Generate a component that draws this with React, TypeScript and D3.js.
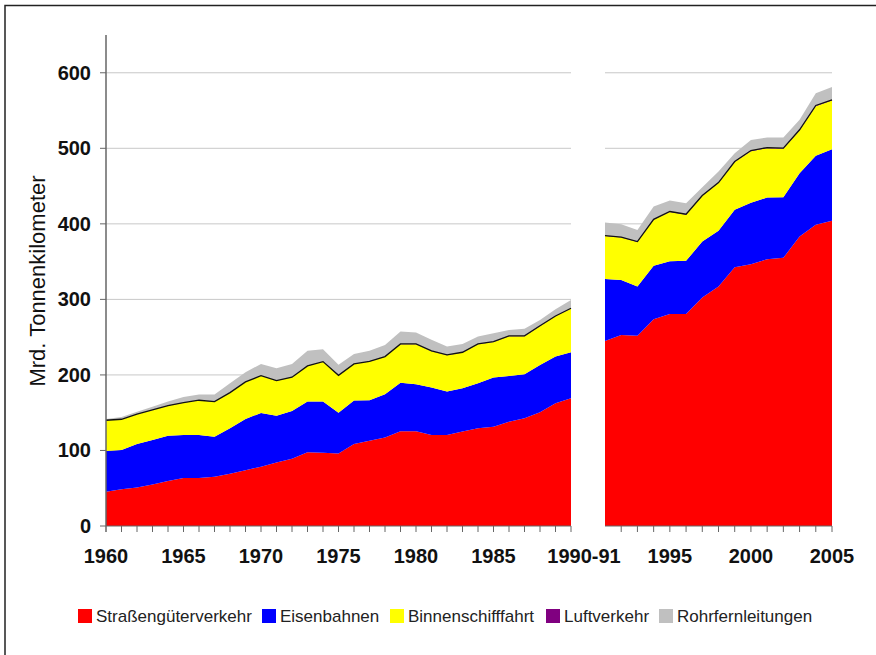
import { useMemo } from "react";
import * as d3 from "d3";

const WIDTH = 876;
const HEIGHT = 655;
const FONT = "'Liberation Sans', Arial, Helvetica, sans-serif";

// west german series 1960-1990, Mrd. tkm
const yearsA = d3.range(1960, 1991);
const roadA = [45.5, 48.5, 51, 55, 59.6, 63.6, 63.6, 65.3, 69.3, 73.7, 78.6, 83.9, 89, 97.6, 97, 96, 108.6, 113, 117, 125.4, 125.4, 120.5, 120.5, 125, 129.4, 131.5, 138, 142.6, 150.6, 162.5, 169];
const railA = [53.8, 52.2, 57.6, 59, 60, 56.9, 56.9, 53, 60.1, 68, 71.1, 62.1, 63.3, 67.1, 67.7, 54, 57.4, 53.4, 57.4, 64.4, 62.2, 62.7, 57.5, 57.3, 59.6, 65, 60.7, 58.4, 62.4, 61.8, 61];
const waterA = [40.6, 40.5, 39.3, 39.5, 39.7, 42.8, 45.9, 46.2, 47, 48.8, 49.1, 46.3, 44.5, 47, 52.6, 49.2, 48.3, 51.3, 49.6, 50.9, 53.1, 48.3, 48.2, 47.4, 51.6, 47.1, 52.6, 50.3, 51.6, 53.3, 57.9];
const airA = [0.1, 0.1, 0.1, 0.1, 0.1, 0.1, 0.1, 0.2, 0.2, 0.2, 0.2, 0.2, 0.2, 0.3, 0.3, 0.3, 0.3, 0.3, 0.3, 0.3, 0.3, 0.3, 0.3, 0.3, 0.4, 0.4, 0.4, 0.4, 0.4, 0.4, 0.4];
const pipeA = [1.7, 3.1, 3.4, 4.4, 5.3, 7.5, 7.5, 9.3, 12.4, 12.8, 15.6, 16.3, 17.6, 20, 16.4, 14, 13.2, 14, 15.4, 16.4, 15, 14.6, 11, 11, 9.8, 11.2, 7.9, 9.3, 7.8, 9, 11];

// unified germany 1991-2005
const yearsB = d3.range(1991, 2006);
const roadB = [245, 253, 251.7, 273.7, 280.8, 280.8, 302.4, 317, 342.6, 346.6, 353.2, 355, 383.2, 398.7, 404];
const railB = [82, 72.8, 65.3, 70.7, 69.8, 70.2, 74.2, 73.7, 75.9, 81.4, 81.7, 80.3, 83.8, 91.3, 94.9];
const waterB = [57, 56.1, 59.1, 61, 65.1, 61.2, 60.2, 63.3, 63.3, 68.2, 65.3, 64.1, 56.7, 65.8, 64.4];
const airB = [0.5, 0.5, 0.5, 0.6, 0.6, 0.6, 0.7, 0.7, 0.7, 0.8, 0.8, 0.8, 0.8, 0.9, 0.9];
const pipeB = [17.2, 17.2, 15.4, 17, 14.7, 14.6, 11.1, 14.6, 11, 14, 13.3, 14.1, 13.2, 16.3, 16.8];

const keys = ["road", "rail", "water", "air", "pipe"];
const labels = ["Straßengüterverkehr", "Eisenbahnen", "Binnenschifffahrt", "Luftverkehr", "Rohrfernleitungen"];
const colors = ["#ff0000", "#0000ff", "#ffff00", "#800080", "#c0c0c0"];
const yTickValues = [0, 100, 200, 300, 400, 500, 600];
const xLabelsA = [1960, 1965, 1970, 1975, 1980, 1985];
const xLabelsB = [1995, 2000, 2005];
const legendX = [78, 262, 390, 546, 659];

const Y0 = 526;
const Y_TOP = 35;
const PANEL_A = [106, 571];
const PANEL_B = [605, 832];

function buildRows(years, road, rail, water, air, pipe) {
  return years.map((year, i) => ({ year, road: road[i], rail: rail[i], water: water[i], air: air[i], pipe: pipe[i] }));
}

function Panel({ rows, x, y, range, firstTick }) {
  const stacked = d3.stack().keys(keys)(rows);
  const area = d3
    .area()
    .x((d) => x(d.data.year))
    .y0((d) => y(d[0]))
    .y1((d) => y(d[1]));
  const airLine = d3
    .line()
    .x((d) => x(d.data.year))
    .y((d) => y(d[1]));
  const tickYears = rows.map((r) => r.year).filter((yr) => yr >= firstTick);

  return (
    <g>
      {yTickValues.slice(1).map((t) => (
        <line key={t} x1={range[0]} x2={range[1]} y1={y(t)} y2={y(t)} stroke="#c8c8c8" strokeWidth={1} />
      ))}
      {stacked.map((s, i) => (
        <path key={s.key} d={area(s)} fill={colors[i]} />
      ))}
      <path d={airLine(stacked[3])} fill="none" stroke="#111" strokeWidth={1.3} />
      <line x1={range[0]} x2={range[1]} y1={Y0} y2={Y0} stroke="#666" strokeWidth={1.2} />
      {tickYears.map((yr) => (
        <line key={yr} x1={x(yr)} x2={x(yr)} y1={Y0} y2={Y0 + 6} stroke="#666" strokeWidth={1} />
      ))}
    </g>
  );
}

export default function App() {
  const rowsA = useMemo(() => buildRows(yearsA, roadA, railA, waterA, airA, pipeA), []);
  const rowsB = useMemo(() => buildRows(yearsB, roadB, railB, waterB, airB, pipeB), []);

  const y = d3.scaleLinear().domain([0, 650]).range([Y0, Y_TOP]);
  const xA = d3.scaleLinear().domain([1960, 1990]).range(PANEL_A);
  const xB = d3.scaleLinear().domain([1991, 2005]).range(PANEL_B);

  return (
    <div style={{ position: "fixed", left: 0, top: 0 }}>
      <svg width={WIDTH} height={HEIGHT} style={{ display: "block", background: "#fff" }} fontFamily={FONT}>
        <rect x={5} y={5.5} width={WIDTH + 20} height={HEIGHT + 20} fill="#fff" stroke="#222" strokeWidth={1.5} />

        <Panel rows={rowsA} x={xA} y={y} range={PANEL_A} firstTick={1961} />
        <Panel rows={rowsB} x={xB} y={y} range={PANEL_B} firstTick={1992} />

        {/* y axis */}
        <line x1={PANEL_A[0]} x2={PANEL_A[0]} y1={Y_TOP} y2={Y0 + 6} stroke="#666" strokeWidth={1.5} />
        {yTickValues.map((t) => (
          <g key={t}>
            <line x1={PANEL_A[0] - 6} x2={PANEL_A[0]} y1={y(t)} y2={y(t)} stroke="#666" strokeWidth={1} />
            <text x={91} y={y(t) + 7} textAnchor="end" fontSize={20} fontWeight="bold" fill="#111">
              {t}
            </text>
          </g>
        ))}
        <text
          transform={`translate(45 ${(172 + 390) / 2}) rotate(-90)`}
          textAnchor="middle"
          fontSize={22}
          fill="#111"
        >
          Mrd. Tonnenkilometer
        </text>

        {/* x labels */}
        {xLabelsA.map((yr) => (
          <text key={yr} x={xA(yr)} y={563} textAnchor="middle" fontSize={20} fontWeight="bold" fill="#111">
            {yr}
          </text>
        ))}
        <text x={(xA(1990) + xB(1991)) / 2 - 4} y={563} textAnchor="middle" fontSize={20} fontWeight="bold" fill="#111">
          1990-91
        </text>
        {xLabelsB.map((yr) => (
          <text key={yr} x={xB(yr)} y={563} textAnchor="middle" fontSize={20} fontWeight="bold" fill="#111">
            {yr}
          </text>
        ))}

        {/* legend */}
        {labels.map((label, i) => (
          <g key={label} transform={`translate(${legendX[i]} 609)`}>
            <rect width={14} height={14} fill={colors[i]} />
            <text x={18} y={13} fontSize={17} fill="#222">
              {label}
            </text>
          </g>
        ))}
      </svg>
    </div>
  );
}
